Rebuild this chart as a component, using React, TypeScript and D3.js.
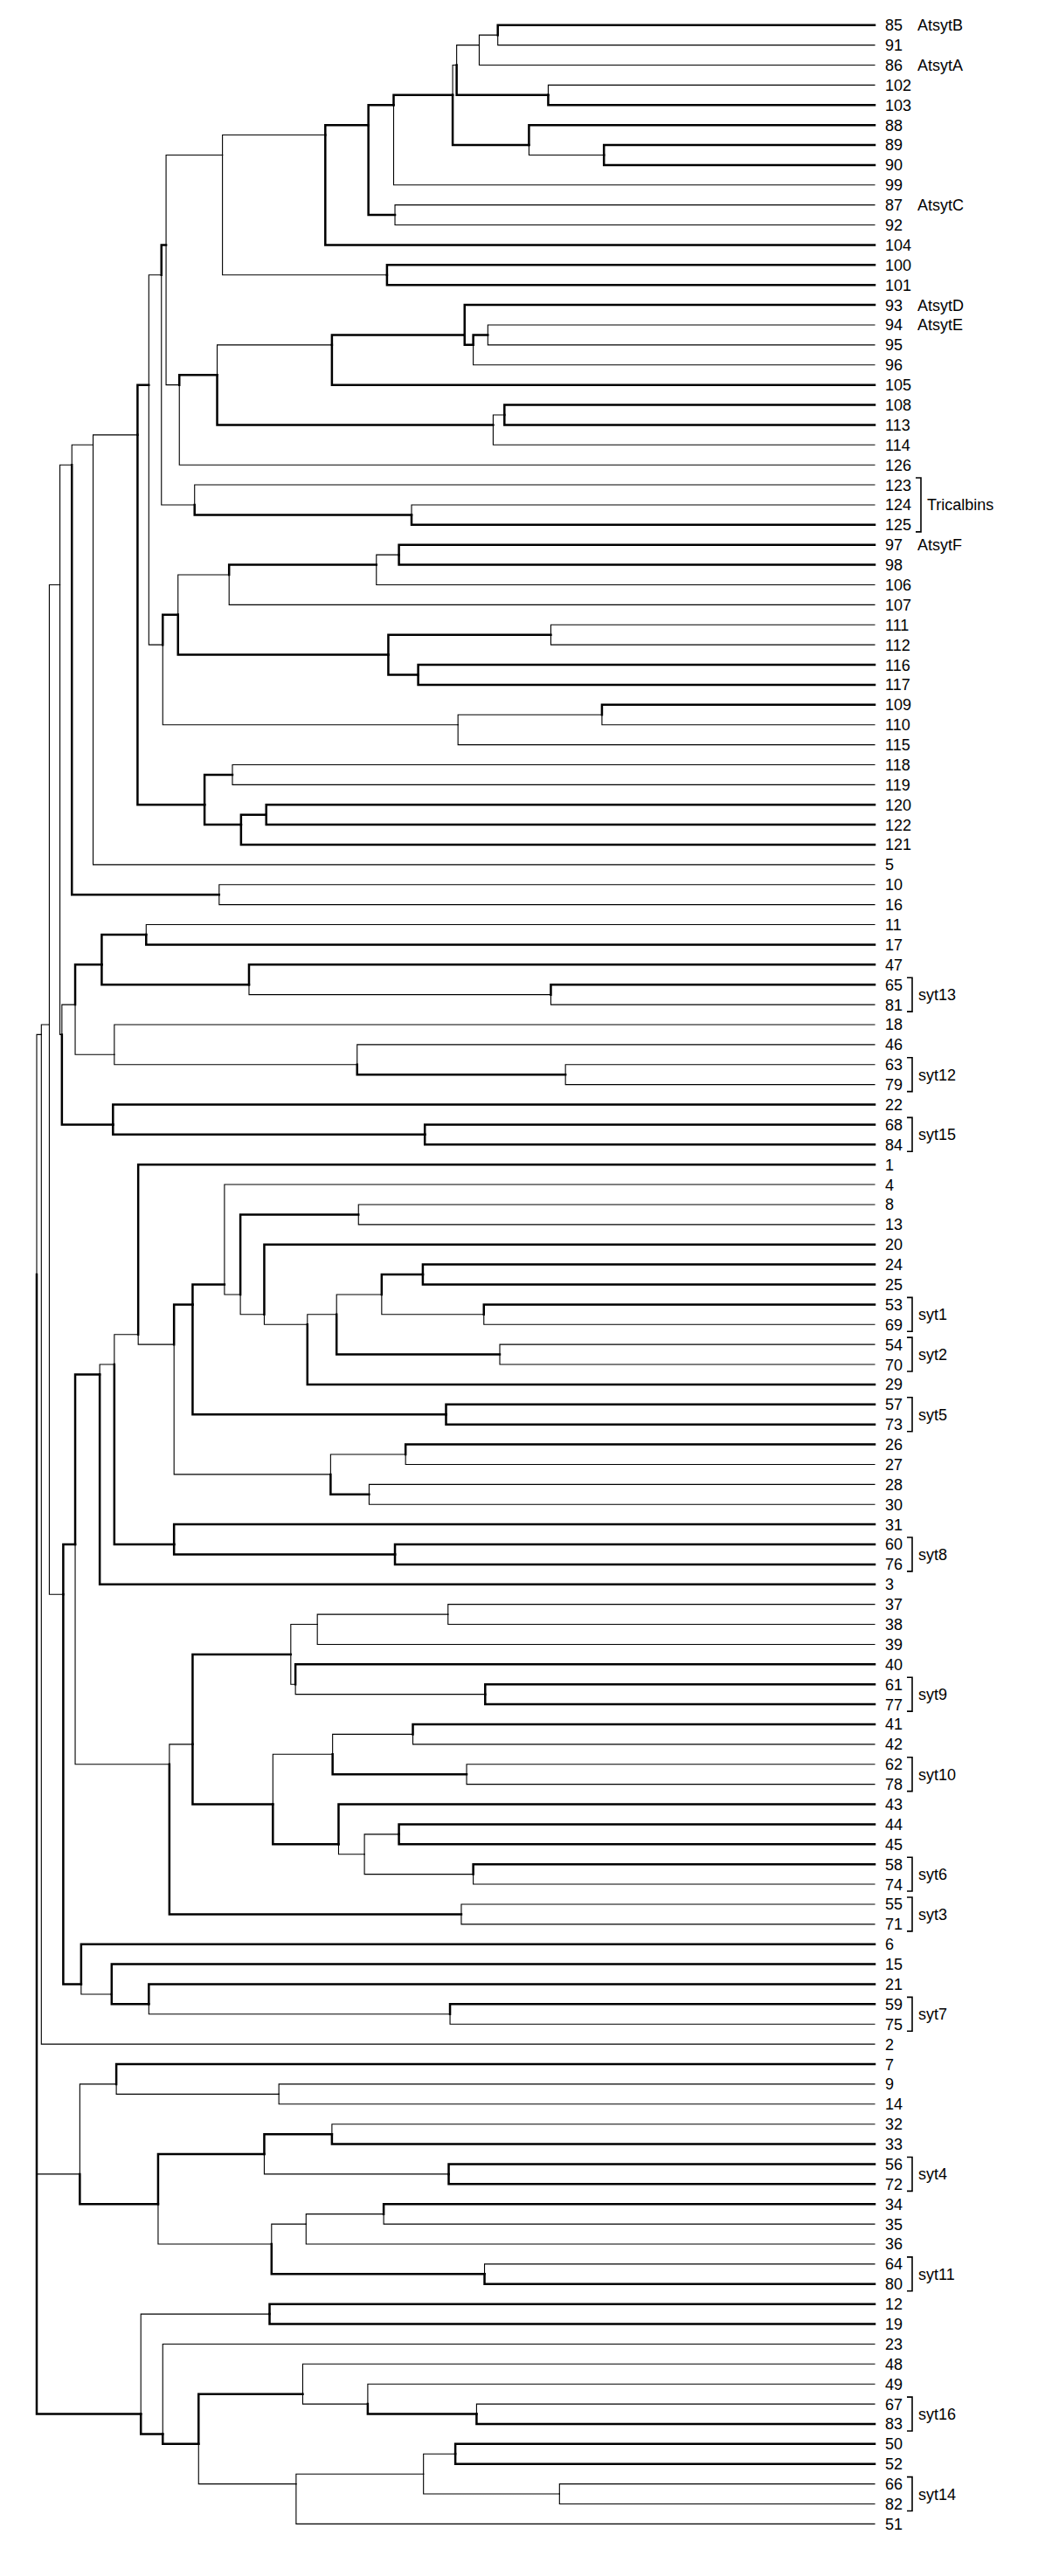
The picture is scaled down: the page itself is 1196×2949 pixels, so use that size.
import React, { useMemo } from "react";
import * as d3 from "d3";

// ---------- DATA ----------
// Tree topology in Newick-like notation. Leaves are sequence numbers.
// Internal node label = its distance from the root (arbitrary units, tips at TIP_DEPTH).
// A trailing "*" marks a branch drawn in bold.
const TIP_DEPTH = 1263;

const cladeA = "((((85*,91)695,86)667,(102,103*)771*)633,(88*,(89*,90*)855)742*)627*";
const cladeD = "(" + cladeA + ",99)538*";
const cladeE = "(" + cladeD + ",(87,92)540*)500*";
const cladeG = "(" + cladeE + ",104*)435";
const cladeH = "(" + cladeG + ",(100*,101*)528)280";
const cladeN = "(93*,((94,95)680*,96)658*)645*";
const cladeL = "(" + cladeN + ",105*)445";
const cladeM = "((108*,113*)705,114)688*";
const cladeK = "(" + cladeL + "," + cladeM + ")272*";
const cladeR = "(" + cladeK + ",126)215";
const cladeJ = "(" + cladeH + "," + cladeR + ")195*";
const cladeT = "(123,(124,125*)565*)238";
const cladeS = "(" + cladeJ + "," + cladeT + ")188";
const cladeW = "(((97*,98*)546,106)512*,107)290";
const cladeY = "((111,112)775*,(116*,117*)575*)530*";
const cladeX = "(" + cladeW + "," + cladeY + ")213*";
const cladeAE = "((109*,110)852,115)635";
const cladeAD = "(" + cladeX + "," + cladeAE + ")190";
const cladeV = "(" + cladeS + "," + cladeAD + ")169*";
const cladeAH = "((118,119)295*,((120*,122*)346*,121*)308*)253*";
const cladeAG = "(" + cladeV + "," + cladeAH + ")152";
const cladeAL = "(" + cladeAG + ",5)85";
const cladeAM = "(" + cladeAL + ",(10,16)275*)53";
const cladeAQ = "((11,17*)165*,(47*,(65*,81)775)320*)98*";
const cladeAR = "(18,(46,(63,79)797*)483)117";
const cladeAP = "(" + cladeAQ + "," + cladeAR + ")58";
const cladeAY = "(22*,(68*,84*)585*)115*";
const cladeAX = "(" + cladeAP + "," + cladeAY + ")38";
const cladeAO = "(" + cladeAM + "," + cladeAX + ")35";

const syt575 = "((24*,25*)582*,(53*,69)674)520";
const syt507 = "(" + syt575 + ",(54,70)698*)452";
const syt463 = "(" + syt507 + ",29*)408";
const syt398 = "(20*," + syt463 + ")343";
const syt362 = "((8,13)485*," + syt398 + ")307";
const syt338 = "(4," + syt362 + ")283*";
const syt290 = "(" + syt338 + ",(57*,73*)617*)235*";
const syt498 = "((26*,27)556,(28,30)501*)443";
const syt262 = "(" + syt290 + "," + syt498 + ")207";
const syt208 = "(1*," + syt262 + ")153";
const syt172 = "(" + syt208 + ",(31*,(60*,76*)540*)207*)117";
const syt150 = "(" + syt172 + ",3*)95*";
const sytBL = "(((37,38)620,39)423,(40*,(61*,77*)676)390)383*";
const sytBM = "(((41*,42)567,(62,78)648*)446,(43*,((44*,45*)546,(58*,74)658)494)455*)356*";
const sytBK = "(" + sytBL + "," + sytBM + ")235";
const sytBJ = "(" + sytBK + ",(55,71)640*)200";
const sytBD = "(" + syt150 + "," + sytBJ + ")58*";
const sytBE = "(6*,(15*,(21*,(59*,75)623)169*)113)67*";
const sytBB = "(" + sytBD + "," + sytBE + ")40";
const cladeBA = "(" + cladeAO + "," + sytBB + ")19";
const cladeBC = "(" + cladeBA + ",2)7";

const lowBU = "(7*,(9,14)365)120";
const lowBW = "((32,33*)445*,(56*,72*)621)343*";
const lowBX = "(((34*,35)523,36)406,(64,80*)675*)354";
const lowBV = "(" + lowBW + "," + lowBX + ")183*";
const lowBG = "(" + lowBU + "," + lowBV + ")65";
const lowCB = "(48,(49,(67,83*)663*)499)401*";
const lowCC = "(((50*,52*)631,(66,82)788)583,51)391";
const lowCA = "(" + lowCB + "," + lowCC + ")244*";
const lowBZ = "(23," + lowCA + ")190*";
const lowBH = "((12*,19*)351," + lowBZ + ")157*";

const treeNewick = "(" + cladeBC + "," + lowBG + "," + lowBH + ")0";

// Single-sequence annotations
const singleNames = ["85", "86", "87", "93", "94", "97"];
const singleLabels = ["AtsytB", "AtsytA", "AtsytC", "AtsytD", "AtsytE", "AtsytF"];

// Bracketed group annotations
const groupFirst = ["123", "65", "63", "68", "53", "54", "57", "60", "61", "62", "58", "55", "59", "56", "64", "67", "66"];
const groupLast = ["125", "81", "79", "84", "69", "70", "73", "76", "77", "78", "74", "71", "75", "72", "80", "83", "82"];
const groupLabels = ["Tricalbins", "syt13", "syt12", "syt15", "syt1", "syt2", "syt5", "syt8", "syt9", "syt10", "syt6", "syt3", "syt7", "syt4", "syt11", "syt16", "syt14"];

// ---------- PARSER ----------
type TNode = { name?: string; depth: number; thick: boolean; children?: TNode[] };

function parseNewick(s: string): TNode {
  let i = 0;
  function parseNode(): TNode {
    if (s[i] === "(") {
      i++;
      const children: TNode[] = [parseNode()];
      while (s[i] === ",") {
        i++;
        children.push(parseNode());
      }
      i++; // ')'
      let num = "";
      while (i < s.length && /[0-9.]/.test(s[i])) num += s[i++];
      let thick = false;
      if (s[i] === "*") {
        thick = true;
        i++;
      }
      return { depth: +num, thick, children };
    }
    let name = "";
    while (i < s.length && /[^,()*]/.test(s[i])) name += s[i++];
    let thick = false;
    if (s[i] === "*") {
      thick = true;
      i++;
    }
    return { name, depth: TIP_DEPTH, thick };
  }
  return parseNode();
}

// ---------- LAYOUT ----------
const W = 1196;
const H = 2949;
const FONT = "'Liberation Sans', Arial, Helvetica, sans-serif";
const FS = 18;
const THIN = 1.1;
const THICK = 2.5;

export default function App() {
  const { links, leaves, pos } = useMemo(() => {
    const root = d3.hierarchy<TNode>(parseNewick(treeNewick), (d) => d.children);
    const lv = root.leaves();
    const xScale = d3.scaleLinear().domain([0, TIP_DEPTH]).range([42, 1001]);
    const yScale = d3.scaleLinear().domain([0, lv.length - 1]).range([28.7, 2889.4]);
    const P = new Map<any, { x: number; y: number }>();
    lv.forEach((l, i) => P.set(l, { x: xScale(TIP_DEPTH), y: yScale(i) }));
    root.eachAfter((n) => {
      if (n.children) {
        const ys = n.leaves().map((l) => P.get(l)!.y);
        P.set(n, { x: xScale(n.data.depth), y: d3.mean(ys)! });
      }
    });
    const lk = root
      .descendants()
      .filter((d) => d.parent)
      .map((d) => {
        const p = P.get(d.parent)!;
        const c = P.get(d)!;
        return { d: `M${p.x},${p.y}V${c.y}H${c.x}`, thick: d.data.thick };
      });
    lk.sort((a, b) => Number(a.thick) - Number(b.thick));
    const byName = new Map<string, number>();
    lv.forEach((l) => byName.set(l.data.name!, P.get(l)!.y));
    return {
      links: lk,
      leaves: lv.map((l) => ({ name: l.data.name!, x: P.get(l)!.x, y: P.get(l)!.y })),
      pos: byName,
    };
  }, []);

  const labelX = 1013;
  const charW = 10;
  const groupMarks = groupLabels.map((lab, i) => {
    const y1 = pos.get(groupFirst[i])!;
    const y2 = pos.get(groupLast[i])!;
    const digits = Math.max(groupFirst[i].length, groupLast[i].length);
    const bx = labelX + digits * charW + 11;
    return { lab, y1, y2, bx };
  });

  return (
    <svg
      width={W}
      height={H}
      style={{ position: "absolute", left: 0, top: 0, background: "#fff" }}
      fontFamily={FONT}
      fontSize={FS}
    >
      <rect width={W} height={H} fill="#fff" />
      <g fill="none" stroke="#000" strokeLinecap="square">
        {links.map((l, i) => (
          <path key={i} d={l.d} strokeWidth={l.thick ? THICK : THIN} />
        ))}
      </g>
      <g fill="#000">
        {leaves.map((l) => (
          <text key={l.name} x={labelX} y={l.y} dy="0.36em">
            {l.name}
          </text>
        ))}
        {singleNames.map((n, i) => (
          <text key={"s" + n} x={labelX + 37} y={pos.get(n)!} dy="0.36em">
            {singleLabels[i]}
          </text>
        ))}
      </g>
      <g>
        {groupMarks.map((g) => (
          <g key={g.lab}>
            <path
              d={`M${g.bx - 6},${g.y1 - 8}H${g.bx}V${g.y2 + 8}H${g.bx - 6}`}
              fill="none"
              stroke="#000"
              strokeWidth={1.6}
            />
            <text x={g.bx + 7} y={(g.y1 + g.y2) / 2} dy="0.36em" fill="#000">
              {g.lab}
            </text>
          </g>
        ))}
      </g>
    </svg>
  );
}
